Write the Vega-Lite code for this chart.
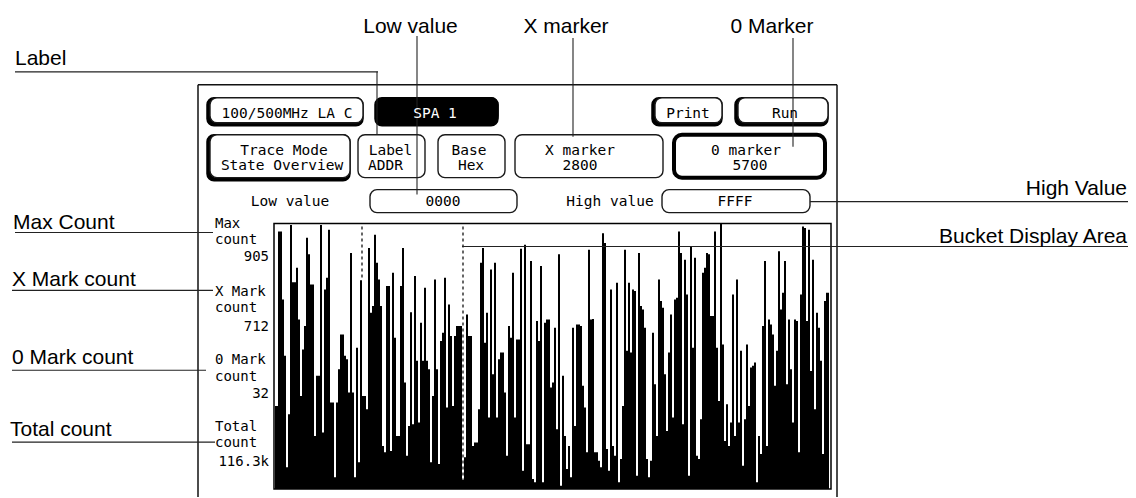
{
  "$schema": "https://vega.github.io/schema/vega-lite/v6.json",
  "width": 1136,
  "height": 498,
  "padding": 0,
  "autosize": {"type": "fit", "contains": "padding"},
  "background": "white",
  "config": {"view": {"stroke": null}},
  "datasets": {
    "bars": [
      {"b":0,"n":283},{"b":1,"n":283},{"b":2,"n":878},{"b":3,"n":878},{"b":4,"n":646},{"b":5,"n":454},{"b":6,"n":74},{"b":7,"n":255},{"b":8,"n":900},{"b":9,"n":705},
      {"b":10,"n":705},{"b":11,"n":754},{"b":12,"n":578},{"b":13,"n":317},{"b":14,"n":476},{"b":15,"n":556},{"b":16,"n":857},{"b":17,"n":800},{"b":18,"n":697},{"b":19,"n":697},
      {"b":20,"n":181},{"b":21,"n":386},{"b":22,"n":386},{"b":23,"n":900},{"b":24,"n":193},{"b":25,"n":680},{"b":26,"n":720},{"b":27,"n":884},{"b":28,"n":295},{"b":29,"n":295},
      {"b":30,"n":40},{"b":31,"n":295},{"b":32,"n":408},{"b":33,"n":527},{"b":34,"n":527},{"b":35,"n":454},{"b":36,"n":442},{"b":37,"n":329},{"b":38,"n":805},{"b":39,"n":329},
      {"b":40,"n":40},{"b":41,"n":482},{"b":42,"n":91},{"b":43,"n":712},{"b":44,"n":317},{"b":45,"n":317},{"b":46,"n":272},{"b":47,"n":822},{"b":48,"n":601},{"b":49,"n":624},
      {"b":50,"n":867},{"b":51,"n":771},{"b":52,"n":714},{"b":53,"n":624},{"b":54,"n":147},{"b":55,"n":125},{"b":56,"n":692},{"b":57,"n":692},{"b":58,"n":130},{"b":59,"n":737},
      {"b":60,"n":516},{"b":61,"n":181},{"b":62,"n":181},{"b":63,"n":692},{"b":64,"n":822},{"b":65,"n":363},{"b":66,"n":113},{"b":67,"n":215},{"b":68,"n":603},{"b":69,"n":221},
      {"b":70,"n":726},{"b":71,"n":437},{"b":72,"n":227},{"b":73,"n":567},{"b":74,"n":437},{"b":75,"n":686},{"b":76,"n":437},{"b":77,"n":408},{"b":78,"n":91},{"b":79,"n":317},
      {"b":80,"n":714},{"b":81,"n":408},{"b":82,"n":85},{"b":83,"n":505},{"b":84,"n":533},{"b":85,"n":720},{"b":86,"n":278},{"b":87,"n":629},{"b":88,"n":522},{"b":89,"n":283},
      {"b":90,"n":522},{"b":91,"n":556},{"b":92,"n":556},{"b":93,"n":556},{"b":94,"n":32},{"b":95,"n":108},{"b":96,"n":595},{"b":97,"n":522},{"b":98,"n":522},{"b":99,"n":147},
      {"b":100,"n":159},{"b":101,"n":159},{"b":102,"n":272},{"b":103,"n":771},{"b":104,"n":822},{"b":105,"n":499},{"b":106,"n":601},{"b":107,"n":244},{"b":108,"n":748},{"b":109,"n":391},
      {"b":110,"n":771},{"b":111,"n":244},{"b":112,"n":442},{"b":113,"n":465},{"b":114,"n":465},{"b":115,"n":329},{"b":116,"n":113},{"b":117,"n":556},{"b":118,"n":516},{"b":119,"n":737},
      {"b":120,"n":244},{"b":121,"n":510},{"b":122,"n":510},{"b":123,"n":819},{"b":124,"n":62},{"b":125,"n":833},{"b":126,"n":153},{"b":127,"n":153},{"b":128,"n":777},{"b":129,"n":34},
      {"b":130,"n":23},{"b":131,"n":573},{"b":132,"n":505},{"b":133,"n":760},{"b":134,"n":23},{"b":135,"n":567},{"b":136,"n":578},{"b":137,"n":578},{"b":138,"n":346},{"b":139,"n":363},
      {"b":140,"n":550},{"b":141,"n":204},{"b":142,"n":800},{"b":143,"n":11},{"b":144,"n":386},{"b":145,"n":181},{"b":146,"n":68},{"b":147,"n":147},{"b":148,"n":40},{"b":149,"n":550},
      {"b":150,"n":215},{"b":151,"n":561},{"b":152,"n":561},{"b":153,"n":556},{"b":154,"n":352},{"b":155,"n":278},{"b":156,"n":125},{"b":157,"n":816},{"b":158,"n":578},{"b":159,"n":580},
      {"b":160,"n":125},{"b":161,"n":125},{"b":162,"n":96},{"b":163,"n":74},{"b":164,"n":872},{"b":165,"n":839},{"b":166,"n":136},{"b":167,"n":62},{"b":168,"n":680},{"b":169,"n":147},
      {"b":170,"n":113},{"b":171,"n":703},{"b":172,"n":23},{"b":173,"n":102},{"b":174,"n":283},{"b":175,"n":816},{"b":176,"n":471},{"b":177,"n":703},{"b":178,"n":465},{"b":179,"n":680},
      {"b":180,"n":675},{"b":181,"n":45},{"b":182,"n":805},{"b":183,"n":624},{"b":184,"n":612},{"b":185,"n":550},{"b":186,"n":102},{"b":187,"n":40},{"b":188,"n":96},{"b":189,"n":533},
      {"b":190,"n":357},{"b":191,"n":181},{"b":192,"n":714},{"b":193,"n":641},{"b":194,"n":618},{"b":195,"n":391},{"b":196,"n":198},{"b":197,"n":465},{"b":198,"n":595},{"b":199,"n":244},
      {"b":200,"n":646},{"b":201,"n":652},{"b":202,"n":878},{"b":203,"n":805},{"b":204,"n":221},{"b":205,"n":782},{"b":206,"n":663},{"b":207,"n":45},{"b":208,"n":827},{"b":209,"n":482},
      {"b":210,"n":788},{"b":211,"n":113},{"b":212,"n":102},{"b":213,"n":238},{"b":214,"n":737},{"b":215,"n":754},{"b":216,"n":805},{"b":217,"n":800},{"b":218,"n":590},{"b":219,"n":590},
      {"b":220,"n":878},{"b":221,"n":482},{"b":222,"n":300},{"b":223,"n":905},{"b":224,"n":493},{"b":225,"n":164},{"b":226,"n":289},{"b":227,"n":147},{"b":228,"n":227},{"b":229,"n":663},
      {"b":230,"n":181},{"b":231,"n":714},{"b":232,"n":227},{"b":233,"n":471},{"b":234,"n":79},{"b":235,"n":238},{"b":236,"n":493},{"b":237,"n":283},{"b":238,"n":414},{"b":239,"n":420},
      {"b":240,"n":431},{"b":241,"n":23},{"b":242,"n":181},{"b":243,"n":119},{"b":244,"n":556},{"b":245,"n":777},{"b":246,"n":147},{"b":247,"n":578},{"b":248,"n":561},{"b":249,"n":527},
      {"b":250,"n":352},{"b":251,"n":471},{"b":252,"n":811},{"b":253,"n":612},{"b":254,"n":669},{"b":255,"n":777},{"b":256,"n":357},{"b":257,"n":578},{"b":258,"n":408},{"b":259,"n":227},
      {"b":260,"n":578},{"b":261,"n":573},{"b":262,"n":125},{"b":263,"n":663},{"b":264,"n":895},{"b":265,"n":890},{"b":266,"n":573},{"b":267,"n":884},{"b":268,"n":402},{"b":269,"n":782},
      {"b":270,"n":272},{"b":271,"n":601},{"b":272,"n":550},{"b":273,"n":437},{"b":274,"n":119},{"b":275,"n":641},{"b":276,"n":669},{"b":277,"n":669}
    ],
    "frame": [
      {"b":-38.5,"n":1377.9,"b2":-38.5,"n2":-27.2},
      {"b":-38.5,"n":1377.9,"b2":281,"n2":1377.9},
      {"b":281,"n":1377.9,"b2":281,"n2":-27.2}
    ],
    "lines": [
      {"b":-130,"n":1422.2,"b2":51.5,"n2":1422.2},
      {"b":51,"n":1422.2,"b2":51,"n2":1207.8},
      {"b":71,"n":1544.6,"b2":71,"n2":1003.7},
      {"b":149,"n":1537.8,"b2":149,"n2":1201.0},
      {"b":259,"n":1537.8,"b2":259,"n2":1167.0},
      {"b":267.5,"n":979.9,"b2":426.5,"n2":979.9},
      {"b":93.5,"n":826.7,"b2":426.5,"n2":826.7},
      {"b":-130,"n":874.4,"b2":-31,"n2":874.4},
      {"b":-131.5,"n":677.1,"b2":-31,"n2":677.1},
      {"b":-131.5,"n":404.9,"b2":-34.5,"n2":404.9},
      {"b":-131.5,"n":159.9,"b2":-30,"n2":159.9}
    ],
    "boxes": [
      {"b":-32.5,"b2":44,"n":1248.6,"n2":1333.7,"k":"shadow"},
      {"b":51.5,"b2":111.5,"n":1248.6,"n2":1333.7,"k":"black"},
      {"b":190,"b2":223.5,"n":1248.6,"n2":1333.7,"k":"shadow"},
      {"b":231.5,"b2":276.5,"n":1248.6,"n2":1333.7,"k":"shadow"},
      {"b":-32.5,"b2":37.5,"n":1061.5,"n2":1207.8,"k":"shadow"},
      {"b":41.5,"b2":75,"n":1061.5,"n2":1207.8,"k":"plain"},
      {"b":81.5,"b2":115,"n":1061.5,"n2":1207.8,"k":"plain"},
      {"b":120,"b2":194,"n":1061.5,"n2":1207.8,"k":"plain"},
      {"b":199.5,"b2":275,"n":1061.5,"n2":1207.8,"k":"thick"},
      {"b":47.5,"b2":121,"n":942.4,"n2":1020.7,"k":"plain"},
      {"b":193.5,"b2":267.5,"n":942.4,"n2":1020.7,"k":"plain"}
    ],
    "plotbox": [
      {"b":-0.5,"b2":278,"n":0,"n2":905}
    ],
    "markers": [
      {"b":43.5,"n":894.8,"n2":712},
      {"b":94,"n":894.8,"n2":32}
    ],
    "texts": [
      {"b":-130,"n":1446.0,"t":"Label","g":"callL"},
      {"b":-131,"n":888.0,"t":"Max Count","g":"callL"},
      {"b":-131.5,"n":690.7,"t":"X Mark count","g":"callL"},
      {"b":-131.5,"n":425.3,"t":"0 Mark count","g":"callL"},
      {"b":-132.5,"n":180.3,"t":"Total count","g":"callL"},
      {"b":67.75,"n":1554.8,"t":"Low value","g":"callC"},
      {"b":145.5,"n":1554.8,"t":"X marker","g":"callC"},
      {"b":248.5,"n":1554.8,"t":"0 Marker","g":"callC"},
      {"b":426,"n":1003.7,"t":"High Value","g":"callR"},
      {"b":426,"n":840.4,"t":"Bucket Display Area","g":"callR"},
      {"b":6,"n":1265.7,"t":"100/500MHz LA C","g":"mono"},
      {"b":206.5,"n":1265.7,"t":"Print","g":"mono"},
      {"b":255,"n":1265.7,"t":"Run","g":"mono"},
      {"b":4.5,"n":1139.8,"t":"Trace Mode","g":"mono"},
      {"b":3.5,"n":1088.7,"t":"State Overview","g":"mono"},
      {"b":57.75,"n":1139.8,"t":"Label","g":"mono"},
      {"b":97,"n":1139.8,"t":"Base","g":"mono"},
      {"b":98,"n":1088.7,"t":"Hex","g":"mono"},
      {"b":152.5,"n":1139.8,"t":"X marker","g":"mono"},
      {"b":152.5,"n":1088.7,"t":"2800","g":"mono"},
      {"b":235.5,"n":1139.8,"t":"0 marker","g":"mono"},
      {"b":237.5,"n":1088.7,"t":"5700","g":"mono"},
      {"b":7.5,"n":966.3,"t":"Low value","g":"mono"},
      {"b":84,"n":966.3,"t":"0000","g":"mono"},
      {"b":167.5,"n":966.3,"t":"High value","g":"mono"},
      {"b":230,"n":966.3,"t":"FFFF","g":"mono"},
      {"b":46.5,"n":1088.7,"t":"ADDR","g":"monoL"},
      {"b":80,"n":1265.7,"t":"SPA 1","g":"inv"},
      {"b":-30,"n":891.4,"t":"Max","g":"sideL"},
      {"b":-30,"n":833.6,"t":"count","g":"sideL"},
      {"b":-30,"n":656.6,"t":"X Mark","g":"sideL"},
      {"b":-30,"n":602.2,"t":"count","g":"sideL"},
      {"b":-30,"n":425.3,"t":"0 Mark","g":"sideL"},
      {"b":-30,"n":367.4,"t":"count","g":"sideL"},
      {"b":-30,"n":197.3,"t":"Total","g":"sideL"},
      {"b":-30,"n":142.9,"t":"count","g":"sideL"},
      {"b":-3,"n":775.7,"t":"905","g":"sideR"},
      {"b":-3,"n":537.6,"t":"712","g":"sideR"},
      {"b":-3,"n":309.6,"t":"32","g":"sideR"},
      {"b":-3,"n":78.3,"t":"116.3k","g":"sideR"}
    ]
  },
  "encoding": {
    "x": {"field": "b", "type": "quantitative", "scale": {"domain": [-137.5, 430.5], "nice": false, "zero": false}, "axis": null},
    "y": {"field": "n", "type": "quantitative", "scale": {"domain": [-27.2185, 1667.13], "nice": false, "zero": false}, "axis": null}
  },
  "layer": [
    {
      "data": {"name": "frame"},
      "mark": {"type": "rule", "color": "#111111", "strokeWidth": 1.5},
      "encoding": {"x2": {"field": "b2"}, "y2": {"field": "n2"}}
    },
    {
      "data": {"name": "boxes"},
      "transform": [{"filter": "datum.k == 'shadow' || datum.k == 'black'"}],
      "mark": {"type": "rect", "fill": "black", "stroke": "black", "strokeWidth": 1.5, "cornerRadius": 7, "xOffset": -3, "yOffset": 3},
      "encoding": {"x2": {"field": "b2"}, "y2": {"field": "n2"}}
    },
    {
      "data": {"name": "boxes"},
      "transform": [{"filter": "datum.k == 'shadow' || datum.k == 'plain'"}],
      "mark": {"type": "rect", "fill": "white", "stroke": "#1a1a1a", "strokeWidth": 1.4, "cornerRadius": 7},
      "encoding": {"x2": {"field": "b2"}, "y2": {"field": "n2"}}
    },
    {
      "data": {"name": "boxes"},
      "transform": [{"filter": "datum.k == 'black'"}],
      "mark": {"type": "rect", "fill": "black", "stroke": "black", "strokeWidth": 1.4, "cornerRadius": 7},
      "encoding": {"x2": {"field": "b2"}, "y2": {"field": "n2"}}
    },
    {
      "data": {"name": "boxes"},
      "transform": [{"filter": "datum.k == 'thick'"}],
      "mark": {"type": "rect", "fill": "white", "stroke": "black", "strokeWidth": 4, "cornerRadius": 8},
      "encoding": {"x2": {"field": "b2"}, "y2": {"field": "n2"}}
    },
    {
      "data": {"name": "bars"},
      "mark": {"type": "area", "interpolate": "step", "color": "black", "opacity": 1, "fillOpacity": 1, "stroke": null},
      "encoding": {"y2": {"datum": 0}}
    },
    {
      "data": {"name": "plotbox"},
      "mark": {"type": "rect", "fill": "transparent", "stroke": "black", "strokeWidth": 1.5},
      "encoding": {"x2": {"field": "b2"}, "y2": {"field": "n2"}}
    },
    {
      "data": {"name": "markers"},
      "mark": {"type": "rule", "color": "black", "strokeWidth": 1.2, "strokeDash": [3, 3]},
      "encoding": {"y2": {"field": "n2"}}
    },
    {
      "data": {"name": "lines"},
      "mark": {"type": "rule", "color": "#222222", "strokeWidth": 1.1},
      "encoding": {"x2": {"field": "b2"}, "y2": {"field": "n2"}}
    },
    {
      "data": {"name": "texts"},
      "transform": [{"filter": "datum.g == 'callL'"}],
      "mark": {"type": "text", "align": "left", "baseline": "alphabetic", "font": "Liberation Sans", "fontSize": 21, "color": "black"},
      "encoding": {"text": {"field": "t", "type": "nominal"}}
    },
    {
      "data": {"name": "texts"},
      "transform": [{"filter": "datum.g == 'callC'"}],
      "mark": {"type": "text", "align": "center", "baseline": "alphabetic", "font": "Liberation Sans", "fontSize": 21, "color": "black"},
      "encoding": {"text": {"field": "t", "type": "nominal"}}
    },
    {
      "data": {"name": "texts"},
      "transform": [{"filter": "datum.g == 'callR'"}],
      "mark": {"type": "text", "align": "right", "baseline": "alphabetic", "font": "Liberation Sans", "fontSize": 21, "color": "black"},
      "encoding": {"text": {"field": "t", "type": "nominal"}}
    },
    {
      "data": {"name": "texts"},
      "transform": [{"filter": "datum.g == 'mono'"}],
      "mark": {"type": "text", "align": "center", "baseline": "alphabetic", "font": "DejaVu Sans Mono", "fontSize": 14.5, "color": "black"},
      "encoding": {"text": {"field": "t", "type": "nominal"}}
    },
    {
      "data": {"name": "texts"},
      "transform": [{"filter": "datum.g == 'monoL'"}],
      "mark": {"type": "text", "align": "left", "baseline": "alphabetic", "font": "DejaVu Sans Mono", "fontSize": 14.5, "color": "black"},
      "encoding": {"text": {"field": "t", "type": "nominal"}}
    },
    {
      "data": {"name": "texts"},
      "transform": [{"filter": "datum.g == 'inv'"}],
      "mark": {"type": "text", "align": "center", "baseline": "alphabetic", "font": "DejaVu Sans Mono", "fontSize": 14.5, "color": "white"},
      "encoding": {"text": {"field": "t", "type": "nominal"}}
    },
    {
      "data": {"name": "texts"},
      "transform": [{"filter": "datum.g == 'sideL'"}],
      "mark": {"type": "text", "align": "left", "baseline": "alphabetic", "font": "DejaVu Sans Mono", "fontSize": 14, "color": "black"},
      "encoding": {"text": {"field": "t", "type": "nominal"}}
    },
    {
      "data": {"name": "texts"},
      "transform": [{"filter": "datum.g == 'sideR'"}],
      "mark": {"type": "text", "align": "right", "baseline": "alphabetic", "font": "DejaVu Sans Mono", "fontSize": 14, "color": "black"},
      "encoding": {"text": {"field": "t", "type": "nominal"}}
    }
  ]
}
